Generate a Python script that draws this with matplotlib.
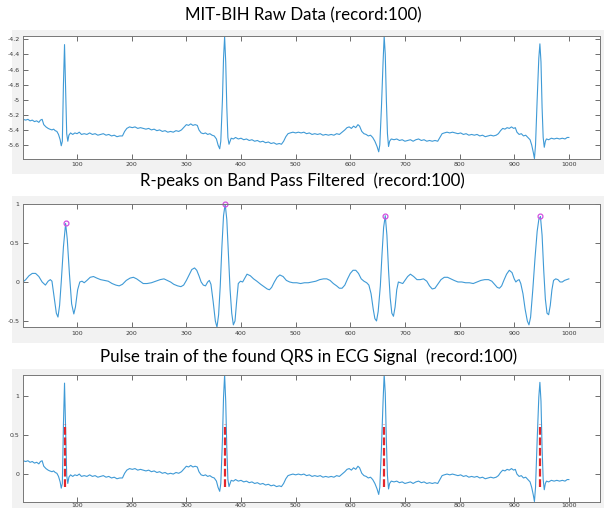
import numpy as np
import matplotlib
matplotlib.use("Agg")
import matplotlib.pyplot as plt
from matplotlib.patches import Rectangle

plt.rcParams['axes.unicode_minus'] = False

# raw MIT-BIH record 100 samples
raw_x = [1, 6, 10, 14, 18, 22, 26, 30, 33, 36, 39, 43, 47, 50, 54, 57, 60, 63, 66, 69,
         71, 73, 75, 77, 79, 81, 83, 85, 88, 92, 96, 100, 104, 108, 113, 118, 123, 128, 133, 138,
         143, 148, 153, 158, 163, 168, 173, 178, 183, 187, 191, 196, 201, 206, 211, 216, 221, 226, 231, 236,
         241, 246, 251, 256, 261, 266, 271, 276, 281, 286, 291, 296, 300, 304, 308, 312, 316, 320, 323, 327,
         331, 335, 339, 343, 347, 351, 355, 358, 361, 363, 366, 368, 370, 372, 374, 376, 378, 380, 382, 386,
         390, 395, 400, 405, 410, 415, 420, 425, 430, 435, 440, 445, 450, 455, 460, 465, 470, 474, 478, 482,
         486, 490, 495, 500, 505, 510, 515, 520, 525, 530, 535, 540, 545, 550, 555, 560, 565, 570, 575, 580,
         585, 590, 594, 598, 602, 606, 610, 614, 617, 621, 625, 629, 633, 637, 641, 645, 649, 652, 654, 657,
         660, 662, 664, 666, 668, 670, 672, 675, 680, 685, 690, 695, 700, 705, 710, 715, 720, 725, 730, 735,
         740, 745, 750, 755, 760, 764, 768, 772, 777, 782, 787, 792, 797, 802, 807, 812, 817, 822, 827, 832,
         837, 842, 847, 852, 857, 862, 867, 871, 875, 879, 883, 887, 891, 895, 899, 902, 905, 909, 913, 917,
         921, 925, 929, 932, 935, 937, 939, 942, 945, 947, 949, 951, 953, 955, 957, 959, 963, 968, 973, 978,
         983, 988, 993, 997, 1000]
raw_y = [-5.26, -5.27, -5.26, -5.28, -5.27, -5.29, -5.28, -5.30, -5.27, -5.26, -5.33, -5.36, -5.38, -5.39, -5.40, -5.39, -5.41, -5.42, -5.46, -5.53,
         -5.61, -5.55, -4.80, -4.27, -4.85, -5.45, -5.55, -5.47, -5.44, -5.46, -5.44, -5.45, -5.43, -5.46, -5.45, -5.46, -5.44, -5.46, -5.45, -5.47,
         -5.46, -5.45, -5.47, -5.46, -5.48, -5.47, -5.49, -5.48, -5.48, -5.42, -5.38, -5.36, -5.37, -5.36, -5.38, -5.37, -5.38, -5.39, -5.38, -5.40,
         -5.39, -5.41, -5.40, -5.42, -5.41, -5.43, -5.42, -5.43, -5.41, -5.42, -5.40, -5.36, -5.33, -5.34, -5.32, -5.34, -5.33, -5.34, -5.40, -5.44,
         -5.45, -5.44, -5.46, -5.45, -5.47, -5.48, -5.52, -5.60, -5.65, -5.55, -5.00, -4.45, -4.165, -4.50, -5.10, -5.50, -5.59, -5.55, -5.51, -5.52,
         -5.50, -5.52, -5.51, -5.53, -5.52, -5.54, -5.53, -5.55, -5.54, -5.56, -5.55, -5.57, -5.56, -5.58, -5.57, -5.59, -5.58, -5.59, -5.55, -5.49,
         -5.45, -5.44, -5.43, -5.44, -5.43, -5.44, -5.43, -5.45, -5.44, -5.46, -5.45, -5.46, -5.45, -5.47, -5.46, -5.47, -5.46, -5.47, -5.45, -5.46,
         -5.43, -5.40, -5.37, -5.36, -5.38, -5.35, -5.37, -5.33, -5.35, -5.42, -5.45, -5.46, -5.48, -5.47, -5.50, -5.55, -5.62, -5.69, -5.60, -5.10,
         -4.50, -4.16, -4.40, -5.00, -5.45, -5.62, -5.55, -5.52, -5.53, -5.52, -5.54, -5.53, -5.55, -5.54, -5.53, -5.55, -5.53, -5.52, -5.54, -5.53,
         -5.55, -5.54, -5.55, -5.54, -5.55, -5.50, -5.45, -5.44, -5.43, -5.44, -5.43, -5.44, -5.45, -5.44, -5.46, -5.45, -5.47, -5.46, -5.47, -5.46,
         -5.48, -5.47, -5.49, -5.48, -5.47, -5.48, -5.47, -5.45, -5.41, -5.38, -5.39, -5.37, -5.38, -5.36, -5.38, -5.37, -5.43, -5.46, -5.45, -5.48,
         -5.47, -5.50, -5.53, -5.60, -5.70, -5.78, -5.60, -5.00, -4.45, -4.26, -4.50, -5.10, -5.50, -5.63, -5.55, -5.52, -5.53, -5.51, -5.52, -5.51,
         -5.52, -5.51, -5.52, -5.50, -5.50]

# band pass filtered signal
bp_x = [1, 6, 12, 18, 24, 30, 36, 42, 47, 51, 54, 58, 62, 65, 68, 71, 75, 79, 82, 86,
        90, 94, 97, 101, 105, 109, 113, 118, 124, 130, 136, 143, 150, 157, 164, 171, 177, 183, 190, 197,
        203, 209, 215, 221, 228, 236, 244, 252, 259, 265, 271, 277, 284, 290, 295, 300, 305, 310, 315, 319,
        323, 327, 331, 335, 339, 342, 345, 349, 353, 356, 359, 362, 365, 368, 371, 374, 377, 380, 383, 386,
        389, 392, 395, 399, 403, 407, 411, 417, 423, 429, 436, 442, 448, 452, 456, 461, 466, 471, 477, 483,
        489, 495, 502, 509, 516, 523, 530, 537, 544, 551, 557, 563, 569, 575, 580, 585, 590, 595, 600, 605,
        610, 615, 620, 625, 630, 634, 638, 642, 645, 648, 651, 655, 658, 661, 664, 667, 670, 673, 676, 679,
        682, 685, 688, 692, 696, 700, 705, 710, 716, 722, 728, 734, 740, 745, 750, 755, 760, 766, 772, 778,
        784, 790, 797, 804, 811, 818, 825, 832, 839, 846, 853, 859, 864, 869, 873, 877, 881, 886, 891, 896,
        900, 903, 906, 909, 912, 916, 920, 924, 927, 930, 934, 938, 942, 945, 948, 951, 954, 957, 960, 963,
        966, 969, 972, 976, 980, 984, 988, 992, 996, 1000]
bp_y = [0.00, 0.03, 0.08, 0.11, 0.11, 0.07, 0.00, -0.04, 0.01, 0.03, 0.01, -0.20, -0.40, -0.45, -0.30, 0.00, 0.45, 0.75, 0.55, 0.10,
        -0.28, -0.41, -0.32, -0.10, 0.00, 0.01, -0.01, 0.02, 0.06, 0.07, 0.05, 0.03, 0.02, 0.01, -0.02, -0.04, -0.05, -0.03, 0.02, 0.05,
        0.06, 0.04, 0.01, -0.02, -0.02, -0.01, 0.01, 0.03, 0.04, 0.02, 0.00, -0.03, -0.05, -0.06, -0.04, 0.02, 0.09, 0.16, 0.18, 0.15,
        0.08, 0.00, -0.04, -0.05, 0.00, 0.02, -0.03, -0.25, -0.50, -0.58, -0.42, -0.05, 0.45, 0.85, 1.00, 0.80, 0.35, -0.10, -0.40, -0.55,
        -0.50, -0.25, -0.02, 0.01, 0.00, 0.05, 0.10, 0.08, 0.04, 0.01, -0.03, -0.06, -0.09, -0.10, -0.07, 0.00, 0.06, 0.09, 0.07, 0.02,
        0.00, -0.01, -0.01, -0.02, -0.01, -0.01, 0.00, 0.01, 0.03, 0.04, 0.04, 0.02, -0.02, -0.05, -0.08, -0.08, -0.04, 0.04, 0.11, 0.15,
        0.15, 0.11, 0.04, 0.01, -0.01, -0.04, -0.15, -0.35, -0.47, -0.50, -0.38, -0.05, 0.35, 0.70, 0.85, 0.60, 0.15, -0.20, -0.40, -0.44,
        -0.32, -0.10, 0.00, -0.01, -0.02, 0.02, 0.07, 0.10, 0.07, 0.03, 0.03, 0.04, 0.01, -0.05, -0.09, -0.08, -0.03, 0.03, 0.06, 0.06,
        0.04, 0.02, 0.00, 0.00, -0.01, -0.01, -0.02, 0.00, 0.02, 0.03, 0.03, 0.01, -0.03, -0.07, -0.08, -0.05, 0.02, 0.10, 0.15, 0.12,
        0.04, 0.00, 0.02, 0.03, -0.02, -0.15, -0.35, -0.50, -0.55, -0.45, -0.10, 0.30, 0.65, 0.80, 0.84, 0.60, 0.15, -0.22, -0.40, -0.42,
        -0.30, -0.10, 0.02, 0.04, 0.03, 0.00, 0.00, 0.02, 0.03, 0.04]

# detected R-peaks on the filtered signal
peak_x = [79, 371, 664, 948]
peak_y = [0.75, 1.00, 0.85, 0.84]

# pulse train (QRS locations) and the dc level removed from the raw data
qrs_x = [77, 370, 662, 947]
pulse_lo = -0.17
pulse_hi = 0.64
raw_dc = -5.43

W, H = 604, 508
fig = plt.figure(figsize=(W / 100, H / 100), dpi=100)

line_col = '#3f9ad6'
title_font = ['Lato', 'DejaVu Sans']
xt = [100, 200, 300, 400, 500, 600, 700, 800, 900, 1000]


def px_axes(top, bottom, left=23, right=600):
    return fig.add_axes([left / W, 1 - bottom / H, (right - left) / W, (bottom - top) / H])


def gray_panel(top, bottom, left=12, right=604):
    fig.patches.append(Rectangle((left / W, 1 - bottom / H), (right - left) / W, (bottom - top) / H,
                                 transform=fig.transFigure, facecolor='#f2f2f2', edgecolor='none', zorder=-5))


def style(ax, yt, ylabels, xpad=2.5):
    ax.set_xlim(1, 1057)
    ax.set_xticks(xt)
    ax.set_xticklabels([str(v) for v in xt])
    ax.set_yticks(yt)
    ax.set_yticklabels(ylabels)
    ax.tick_params(direction='in', length=3.5, width=0.6, colors='#555555', labelcolor='#3a3a3a',
                   labelsize=4.5, top=True, right=True, pad=2.5)
    ax.tick_params(axis='x', pad=xpad)
    for s in ax.spines.values():
        s.set_color('#777777')
        s.set_linewidth(0.7)
    ax.set_facecolor('white')


gray_panel(30, 174)
gray_panel(196, 343)
gray_panel(369, 508)

# panel 1 - raw data
ax1 = px_axes(36.3, 158.6)
ax1.plot(raw_x, raw_y, color=line_col, lw=0.8)
ax1.set_ylim(min(raw_y), max(raw_y))
style(ax1, [-5.6, -5.4, -5.2, -5.0, -4.8, -4.6, -4.4, -4.2],
      ['-5.6', '-5.4', '-5.2', '-5', '-4.8', '-4.6', '-4.4', '-4.2'])

# panel 2 - band pass filtered with R-peaks
ax2 = px_axes(204, 327.2)
ax2.plot(bp_x, bp_y, color=line_col, lw=0.8)
ax2.plot(peak_x, peak_y, 'o', mfc='none', mec='#d24fe0', ms=3.5, mew=0.9, clip_on=False)
ax2.set_ylim(min(bp_y), max(bp_y))
style(ax2, [-0.5, 0, 0.5, 1], ['-0.5', '0', '0.5', '1'])

# panel 3 - pulse train
ecg = np.array(raw_y) - raw_dc
ax3 = px_axes(374.5, 501.5)
ax3.plot(raw_x, ecg, color=line_col, lw=0.8)
ax3.vlines(qrs_x, pulse_lo, pulse_hi, colors='#e3262b', linestyles=(0, (3.5, 1.2)), lw=1.6, zorder=3)
ax3.set_ylim(ecg.min(), ecg.max())
style(ax3, [0, 0.5, 1], ['0', '0.5', '1'], xpad=0.8)

fig.text(303 / W, 1 - 15 / H, 'MIT-BIH Raw Data (record:100)', ha='center', va='center',
         fontsize=12.2, family=title_font)
fig.text(302 / W, 1 - 181 / H, 'R-peaks on Band Pass Filtered  (record:100)', ha='center', va='center',
         fontsize=12.2, family=title_font)
fig.text(309 / W, 1 - 357 / H, 'Pulse train of the found QRS in ECG Signal  (record:100)', ha='center',
         va='center', fontsize=12.2, family=title_font)

fig.savefig('out.png', dpi=100)
